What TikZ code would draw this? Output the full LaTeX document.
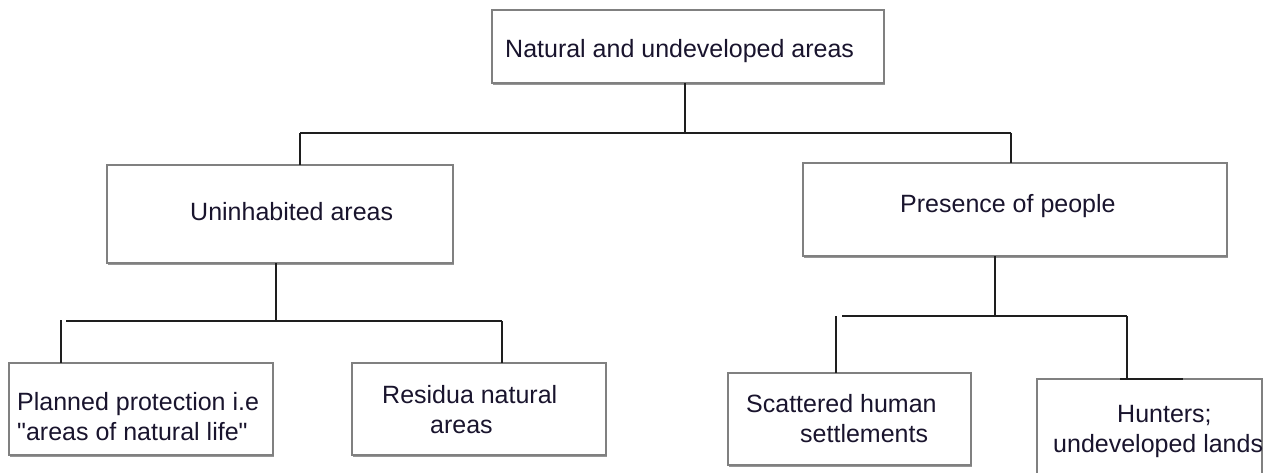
\documentclass[tikz,border=0pt]{standalone}
\usepackage{fontspec}
\setmainfont{Liberation Sans}[Ligatures=TeXOff]
\usetikzlibrary{shadows}
\definecolor{boxgray}{RGB}{128,128,128}
\definecolor{shgray}{RGB}{150,150,150}
\definecolor{linec}{RGB}{30,30,30}
\definecolor{txtc}{RGB}{25,20,45}
\begin{document}
\begin{tikzpicture}[x=1pt,y=-1pt,
  box/.style={draw=boxgray, line width=1.8pt, fill=white, rectangle, inner sep=0pt, outer sep=0pt,
    drop shadow={shadow xshift=0.6pt, shadow yshift=-1.8pt, fill=shgray, opacity=1}},
  conn/.style={draw=linec, line width=1.8pt},
  txt/.style={anchor=base west, inner sep=0pt, text=txtc, font=\fontsize{25}{30}\selectfont}]
\useasboundingbox (0,0) rectangle (1268,473);
\begin{scope}
\clip (0,0) rectangle (1268,473);
% boxes
\node[box, minimum width=392pt, minimum height=73pt] (top) at (688,46.5) {};
\node[box, minimum width=346pt, minimum height=98pt] (b1) at (280,214) {};
\node[box, minimum width=424pt, minimum height=93pt] (b2) at (1015,209.5) {};
\node[box, minimum width=264pt, minimum height=92pt] (c1) at (141,409) {};
\node[box, minimum width=254pt, minimum height=92pt] (c2) at (479,409) {};
\node[box, minimum width=243pt, minimum height=92pt] (c3) at (849.5,419) {};
\node[box, minimum width=225pt, minimum height=104pt] (c4) at (1149.5,431) {};
% texts
\node[txt] (ttop) at (505,58) {Natural and undeveloped areas};
\node[txt] (tb1) at (190,220) {Uninhabited areas};
\node[txt] (tb2) at (900,212) {Presence of people};
\node[txt] (tc1a) at (17,410) {Planned protection i.e};
\node[txt] (tc1b) at (17,440) {"areas of natural life"};
\node[txt] (tc2a) at (382,403) {Residua natural};
\node[txt] (tc2b) at (430,433) {areas};
\node[txt] (tc3a) at (746,412) {Scattered human};
\node[txt] (tc3b) at (800,442) {settlements};
\node[txt] (tc4a) at (1117,422) {Hunters;};
\node[txt] (tc4b) at (1053,452) {undeveloped lands};
% connectors
\coordinate (j0) at (685,133);
\coordinate (j0l) at (300,133);
\coordinate (j0r) at (1011,133);
\draw[conn] (j0 |- top.south) -- (j0);
\draw[conn] (j0l) -- (j0r);
\draw[conn] (j0l) -- (j0l |- b1.north);
\draw[conn] (j0r) -- (j0r |- b2.north);
\coordinate (j1) at (276,321);
\coordinate (j1l) at (66,321);
\coordinate (j1r) at (502,321);
\coordinate (j1v) at (61,320);
\draw[conn] (j1 |- b1.south) -- (j1);
\draw[conn] (j1l) -- (j1r);
\draw[conn] (j1v) -- (j1v |- c1.north);
\draw[conn] (j1r) -- (j1r |- c2.north);
\coordinate (j2) at (995,316);
\coordinate (j2l) at (842,316);
\coordinate (j2r) at (1127,316);
\coordinate (j2v) at (836,316);
\coordinate (j2e) at (1183,379);
\draw[conn] (j2 |- b2.south) -- (j2);
\draw[conn] (j2l) -- (j2r);
\draw[conn] (j2v) -- (j2v |- c3.north);
\draw[conn] (j2r) -- (j2r |- c4.north);
\draw[conn] (1120,379) -- (j2e);
\end{scope}
\end{tikzpicture}
\end{document}
